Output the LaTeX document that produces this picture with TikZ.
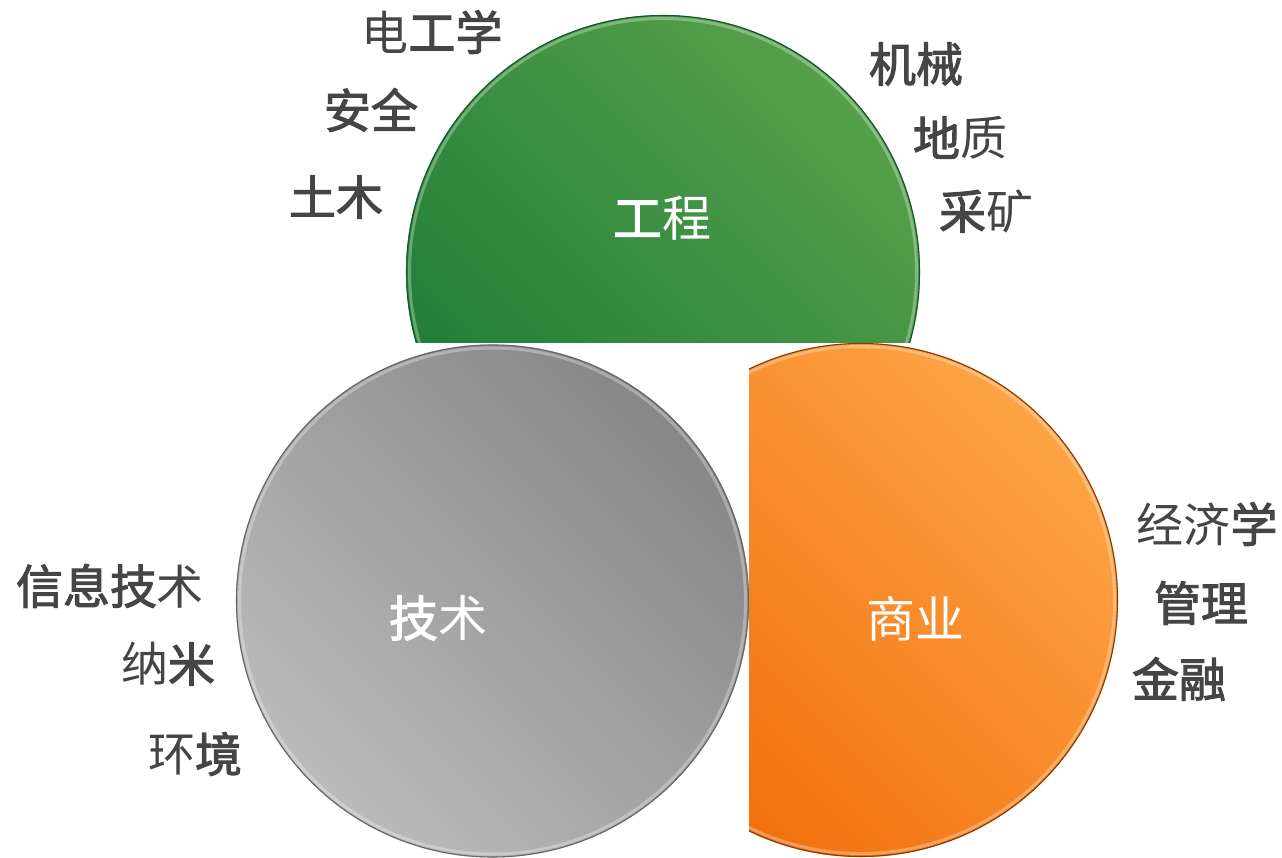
\documentclass[tikz,border=0pt]{standalone}
\usepackage{fontspec}
\setmainfont{Noto Sans CJK SC}
\newfontfamily\medcjk{Noto Sans CJK SC}[FakeBold=2.2]
\definecolor{txt}{HTML}{454545}
\definecolor{grnL}{HTML}{56A04B}
\definecolor{grnD}{HTML}{1E7C37}
\definecolor{gryL}{HTML}{BBBBBB}
\definecolor{gryD}{HTML}{878787}
\definecolor{orgL}{HTML}{FDA445}
\definecolor{orgD}{HTML}{F26E0C}
\newcommand{\bb}[1]{{\medcjk #1}}
\begin{document}
\begin{tikzpicture}[x=1pt,y=-1pt,
  lab/.style={text=txt, font=\fontsize{47}{52}\selectfont, inner sep=0pt},
  mid/.style={text=white, font=\fontsize{49}{54}\selectfont, inner sep=0pt},
  rim/.style={line width=1.1},
  hl/.style={white, opacity=0.3, line width=3}]
\useasboundingbox (0,0) rectangle (1282,858);
\fill[white] (0,0) rectangle (1282,858);

% green circle (cut at the bottom)
\begin{scope}
  \clip (0,0) rectangle (1282,343);
  \shade[top color=grnL, bottom color=grnD, shading angle=-45] (663,272) circle[radius=257];
  \draw[hl] (663,272) circle[radius=253.5];
  \draw[rim, grnD!70!black] (663,272) circle[radius=256.5];
\end{scope}

% grey circle
\shade[top color=gryD, bottom color=gryL, shading angle=-45] (492.5,601) circle[radius=256.5];
\draw[hl] (492.5,601) circle[radius=253];
\draw[rim, black!60] (492.5,601) circle[radius=256];

% orange circle (cut at the left)
\begin{scope}
  \clip (749,0) rectangle (1282,858);
  \shade[top color=orgL, bottom color=orgD, shading angle=-45] (861,600) circle[radius=257];
  \draw[hl] (861,600) circle[radius=253.5];
  \draw[rim, orgD!55!black] (861,600) circle[radius=256.5];
\end{scope}

% centre labels
\node[mid] (eng) at (662,218) {\bb{工}程};
\node[mid] (tech) at (438,618) {\bb{技}术};
\node[mid] (biz) at (915,619) {商业};

% engineering labels
\node[lab] (ee) at (432,32) {电\bb{工学}};
\node[lab] (safe) at (371,110) {\bb{安全}};
\node[lab] (civil) at (336,197) {\bb{土木}};
\node[lab] (mech) at (916,64) {\bb{机械}};
\node[lab] (geo) at (960,138) {\bb{地}质};
\node[lab] (mine) at (986,211) {\bb{采}矿};

% business labels
\node[lab] (econ) at (1207,524) {经济\bb{学}};
\node[lab] (mgmt) at (1201,603) {\bb{管理}};
\node[lab] (fin) at (1179,679) {\bb{金融}};

% technology labels
\node[lab] (it) at (110,586) {\bb{信息技}术};
\node[lab] (nano) at (168,664) {纳\bb{米}};
\node[lab] (env) at (195,754) {环\bb{境}};
\end{tikzpicture}
\end{document}
